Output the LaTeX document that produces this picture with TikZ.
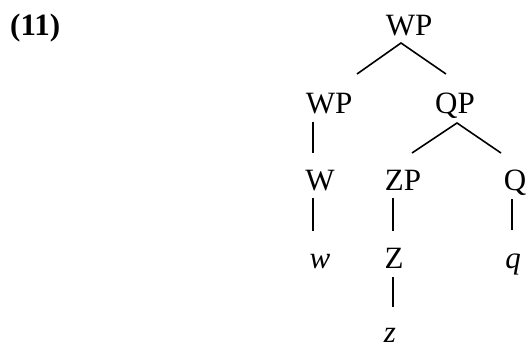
\documentclass[tikz,border=0pt]{standalone}
\usepackage{fontspec}
\setmainfont{Liberation Serif}
\begin{document}
\begin{tikzpicture}[x=1pt,y=-1pt,
  lbl/.style={anchor=base,inner sep=0pt,font=\fontsize{31}{37}\selectfont},
  edge/.style={line width=1.6pt}]
\useasboundingbox (0,0) rectangle (527,348);
\node[lbl,anchor=base west,font=\fontsize{31}{37}\selectfont\bfseries] (ex) at (10,35) {(11)};
\node[lbl] (root) at (409,35) {WP};
\node[lbl] (wp) at (329,113) {WP};
\node[lbl] (qp) at (455,113) {QP};
\node[lbl] (w) at (320,190) {W};
\node[lbl] (zp) at (403,190) {ZP};
\node[lbl] (q) at (515,190) {Q};
\node[lbl] (wl) at (320,268) {\itshape w};
\node[lbl] (z) at (394,268) {Z};
\node[lbl] (ql) at (513,268) {\itshape q};
\node[lbl] (zl) at (390,342) {\itshape z};
\draw[edge] ([shift={(28,-39)}]wp.base) -- ([shift={(-8,8)}]root.base) -- ([shift={(-9,-39)}]qp.base);
\draw[edge] ([shift={(9,-37)}]zp.base) -- ([shift={(2,10)}]qp.base) -- ([shift={(-14,-37)}]q.base);
\draw[edge] ([shift={(-16,9)}]wp.base) -- ([shift={(-7,-37)}]w.base);
\draw[edge] ([shift={(-7,8)}]w.base) -- ([shift={(-7,-37)}]wl.base);
\draw[edge] ([shift={(-10,8)}]zp.base) -- ([shift={(-1,-37)}]z.base);
\draw[edge] ([shift={(-3,9)}]q.base) -- ([shift={(-1,-38)}]ql.base);
\draw[edge] ([shift={(-1,9)}]z.base) -- ([shift={(3,-35)}]zl.base);
\end{tikzpicture}
\end{document}
